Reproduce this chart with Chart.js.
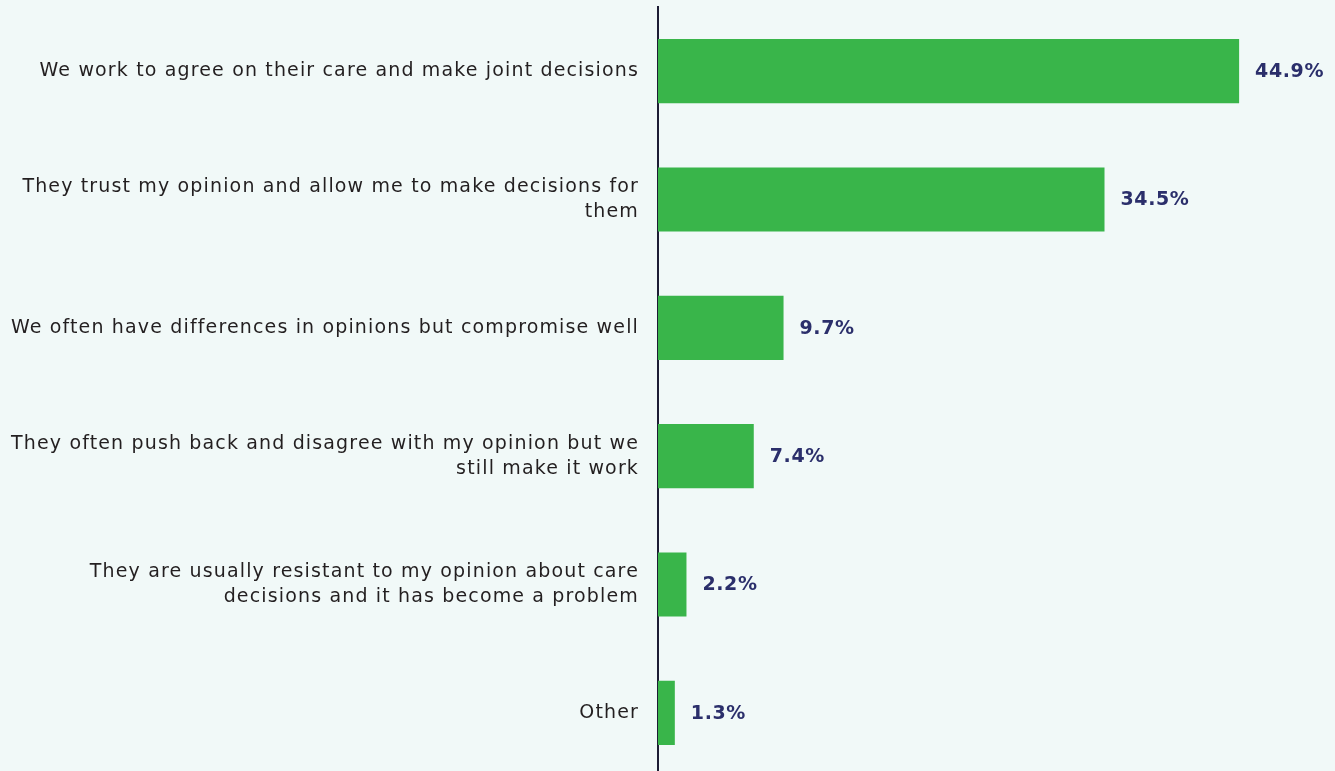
<!DOCTYPE html>
<html lang="en">
<head>
  <meta charset="UTF-8" />
  <title>Care Decisions</title>
  <script src="https://cdn.jsdelivr.net/npm/chart.js"></script>
  <style>
    html, body {
      margin: 0;
      padding: 0;
      background-color: #f1f9f8;
      overflow: hidden;
    }

    .chart-box {
      width: 1335px;
      height: 780px;
    }
  </style>
</head>
<body>

  <div class="chart-box">
    <canvas id="barChart"></canvas>
  </div>

  <script>
    const categories = [
      'We work to agree on their care and make joint decisions',
      ['They trust my opinion and allow me to make decisions for', 'them'],
      'We often have differences in opinions but compromise well',
      ['They often push back and disagree with my opinion but we', 'still make it work'],
      ['They are usually resistant to my opinion about care', 'decisions and it has become a problem'],
      'Other'
    ];
    const shares = [44.9, 34.5, 9.7, 7.4, 2.2, 1.3];

    const labelFont = "'DejaVu Sans', sans-serif";

    // wider tracking for all canvas text
    const tracking = {
      id: 'tracking',
      beforeDraw(chart) {
        chart.ctx.letterSpacing = '1.15px';
      }
    };

    // prints the percentage just past the end of each bar
    const valueLabels = {
      id: 'valueLabels',
      afterDatasetsDraw(chart) {
        const ctx = chart.ctx;
        const meta = chart.getDatasetMeta(0);
        ctx.save();
        ctx.letterSpacing = '0.6px';
        ctx.font = "bold 19px " + labelFont;
        ctx.fillStyle = '#2b2f6b';
        ctx.textAlign = 'left';
        ctx.textBaseline = 'middle';
        meta.data.forEach((bar, i) => {
          ctx.fillText(shares[i].toFixed(1) + '%', bar.x + 16, bar.y + 1);
        });
        ctx.restore();
      }
    };

    new Chart(document.getElementById('barChart'), {
      type: 'bar',
      data: {
        labels: categories,
        datasets: [{
          data: shares,
          backgroundColor: '#39b54a',
          barPercentage: 1,
          categoryPercentage: 0.5
        }]
      },
      options: {
        indexAxis: 'y',
        responsive: true,
        maintainAspectRatio: false,
        animation: false,
        layout: { padding: { top: 7, bottom: 3, right: 4 } },
        plugins: {
          legend: { display: false },
          tooltip: { enabled: false }
        },
        scales: {
          x: {
            display: false,
            min: 0,
            max: 52
          },
          y: {
            afterFit(scale) {
              scale.width = 658;
              scale.paddingTop = 0;
              scale.paddingBottom = 0;
            },
            grid: { display: false, drawTicks: false },
            border: { display: true, color: '#1d1d35', width: 2 },
            ticks: {
              padding: 19,
              color: '#231f20',
              font: { family: labelFont, size: 19, lineHeight: 1.32 }
            }
          }
        }
      },
      plugins: [tracking, valueLabels]
    });
  </script>
</body>
</html>
